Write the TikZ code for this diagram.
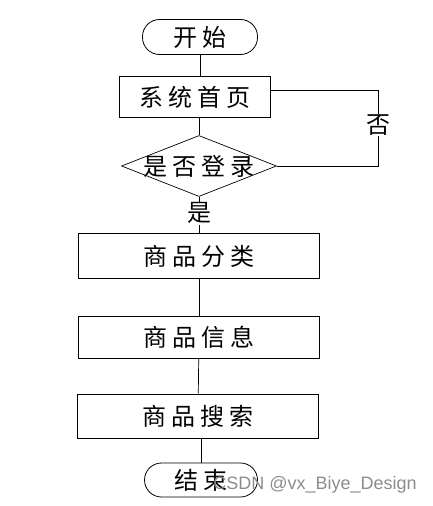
\documentclass[tikz,border=0pt]{standalone}
\usepackage{fontspec}
\newfontfamily\cjk[LetterSpace=20]{Noto Sans CJK SC}
\setsansfont{Liberation Sans}
\usetikzlibrary{shapes.geometric}

\tikzstyle{every node}=[font={\fontsize{24}{24}\selectfont\cjk}, inner sep=0pt]
\tikzstyle{terminal}=[draw, thick, rounded corners=17pt, minimum width=115pt, minimum height=35pt]
\tikzstyle{process}=[draw, minimum width=241pt, minimum height=44pt]
\tikzstyle{decision}=[draw, diamond, aspect=2.54, inner sep=-8pt, minimum width=155pt, minimum height=61pt]
\tikzstyle{branch}=[fill=white, inner sep=1pt]

\begin{document}
\begin{tikzpicture}[x=1pt, y=-1pt, line width=0.7pt]
    \useasboundingbox (0,0) rectangle (433,506);

    \node [terminal] (start) at (200,37) {开始};
    \node [process, minimum width=151pt, minimum height=41pt] (home) at (195,97) {系统首页};
    \node [decision] (login) at (199,166) {是否登录};
    \node [process, minimum height=45pt] (cls) at (199,256) {商品分类};
    \node [process, minimum height=42pt] (info) at (199,337) {商品信息};
    \node [process] (search) at (198,416) {商品搜索};
    \node [terminal, minimum width=113pt, minimum height=34pt] (end) at (201,480) {结束};
    \coordinate (turn) at (378,166);

    \draw (start) -- (start |- home.north);
    \draw (login.north |- home.south) -- (login.north);
    \draw ([yshift=7pt]home.east) -| (turn) -- (login.east);
    \node [branch] (no) at (378,125) {否};
    \draw (login.south) -- (cls.north) node [branch, pos=0.45] (yes) {是};
    \draw (cls) -- (info);
    \draw (info) -- (search);
    \draw (end |- search.south) -- (end);

    \node [font=\sffamily\fontsize{18}{18}\selectfont, text=black!45, anchor=west] (mark) at (213,485) {CSDN @vx\_Biye\_Design};
\end{tikzpicture}
\end{document}
